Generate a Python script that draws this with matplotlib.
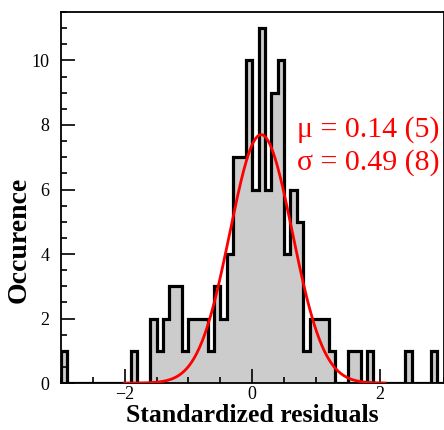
import numpy as np
import matplotlib
matplotlib.use("Agg")
import matplotlib.pyplot as plt
from matplotlib.ticker import MultipleLocator

plt.rcParams['font.family'] = ['Liberation Serif', 'DejaVu Serif']

# histogram: 0.1 wide bins from -3 to 3
bin_edges = np.round(np.arange(-3.0, 3.0001, 0.1), 2)
counts = [1, 0, 0, 0, 0, 0, 0, 0, 0, 0,      # -3.0 .. -2.1
          0, 1, 0, 0, 2, 1, 2, 3, 3, 1,      # -2.0 .. -1.1
          2, 2, 2, 1, 3, 2, 4, 7, 7, 10,     # -1.0 .. -0.1
          6, 11, 6, 9, 10, 4, 6, 5, 1, 2,    #  0.0 ..  0.9
          2, 2, 1, 0, 0, 1, 1, 0, 1, 0,      #  1.0 ..  1.9
          0, 0, 0, 0, 1, 0, 0, 0, 1, 0]      #  2.0 ..  2.9

# gaussian fit
amp = 7.7
mu = 0.14
sigma = 0.49
fit_range = (-2.0, 2.08)

fig = plt.figure(figsize=(4.44, 4.30), dpi=100)
ax = fig.add_axes([0.137, 0.109, 0.862, 0.863])

ax.stairs(counts, bin_edges, fill=True, color="#cccccc", zorder=1)
ax.stairs(counts, bin_edges, color="black", linewidth=2.3, baseline=0, zorder=2)

xf = np.linspace(fit_range[0], fit_range[1], 300)
ax.plot(xf, amp * np.exp(-0.5 * ((xf - mu) / sigma) ** 2), color="red", lw=2.0, zorder=3)

ax.text(0.617, 0.64, "\u03bc = 0.14 (5)\n\u03c3 = 0.49 (8)", transform=ax.transAxes,
        color="red", fontsize=21.5, va="center", ha="left", linespacing=1.3)

ax.set_xlim(-3, 3)
ax.set_ylim(0, 11.5)
ax.xaxis.set_major_locator(MultipleLocator(2))
ax.xaxis.set_minor_locator(MultipleLocator(0.5))
ax.yaxis.set_major_locator(MultipleLocator(2))
ax.yaxis.set_minor_locator(MultipleLocator(0.5))
ax.tick_params(which="both", direction="in", top=False, right=False, labelsize=13, width=1.2)
ax.tick_params(which="major", length=10)
ax.tick_params(which="minor", length=4)
ax.tick_params(axis="x", pad=2)
ax.tick_params(axis="y", pad=8)
for s in ax.spines.values():
    s.set_linewidth(1.3)

ax.set_xlabel("Standardized residuals", fontsize=18.5, fontweight="bold", labelpad=1)
ax.set_ylabel("Occurence", fontsize=20, fontweight="bold")
ax.yaxis.set_label_coords(-0.075, 0.385)

fig.savefig("out.png", dpi=100)
